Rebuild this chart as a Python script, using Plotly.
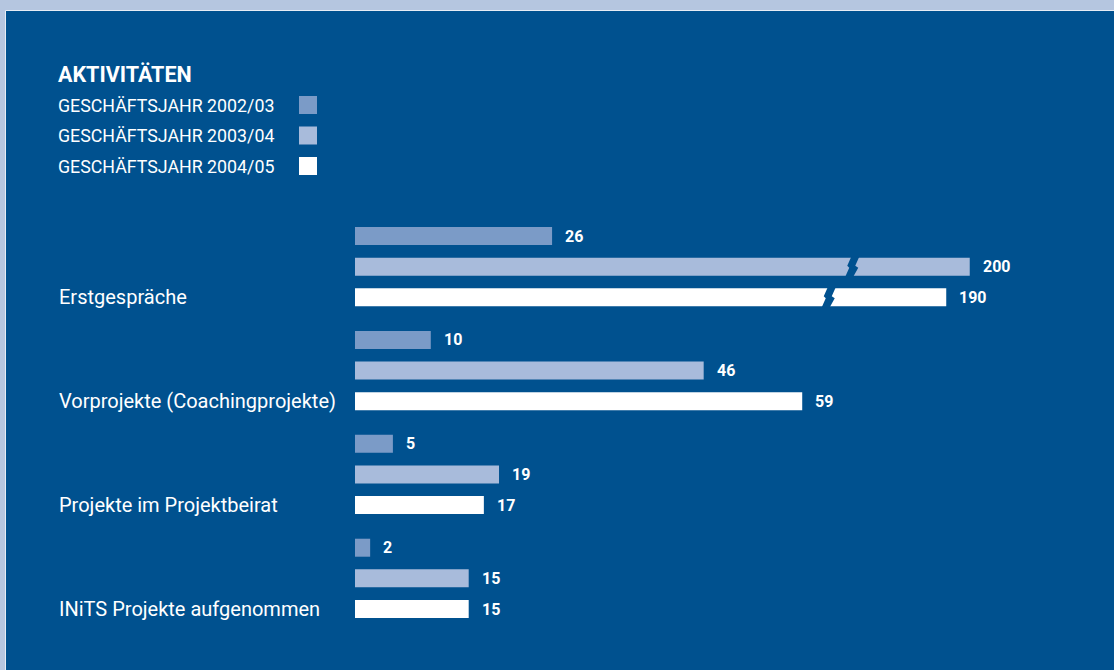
import plotly.graph_objects as go

# ---- data ----
categories = ["Erstgespräche", "Vorprojekte (Coachingprojekte)",
              "Projekte im Projektbeirat", "INiTS Projekte aufgenommen"]
series_names = ["GESCHÄFTSJAHR 2002/03", "GESCHÄFTSJAHR 2003/04", "GESCHÄFTSJAHR 2004/05"]
values_2002_03 = [26, 10, 5, 2]
values_2003_04 = [200, 46, 19, 15]
values_2004_05 = [190, 59, 17, 15]
title_text = "AKTIVITÄTEN"

# ---- style ----
BG = "#00518f"
BORDER = "#b5c6e0"
COLORS = ["#7b9bc7", "#a8bbdb", "#ffffff"]
FONT = "Roboto, 'Open Sans', sans-serif"

W_FIG, H_FIG = 1114, 670
L, T, PW, PH = 355, 205, 700, 430
PX_PER_X = 7.58
PX_PER_Y = 30.65
GROUP_STEP = 3.39
BAR_W = 18 / PX_PER_Y

# broken axis: very large values are drawn compressed
BREAK_LIMIT = 100
BREAK_OFFSET = 19.1
BREAK_SLOPE = 0.31
BREAK_FROM_END = 15.5


def shown(v):
    return v if v <= BREAK_LIMIT else BREAK_OFFSET + BREAK_SLOPE * v


def px_x(p):
    return (p - L) / PW


def px_y(p):
    return 1 - (p - T) / PH


all_series = [values_2002_03, values_2003_04, values_2004_05]

fig = go.Figure()
shapes = []
annotations = []

# background panels
shapes.append(dict(type="rect", xref="paper", yref="paper", layer="below",
                   x0=px_x(-5), x1=px_x(W_FIG + 5), y0=px_y(-5), y1=px_y(H_FIG + 5),
                   fillcolor=BORDER, line=dict(width=0)))
shapes.append(dict(type="rect", xref="paper", yref="paper", layer="below",
                   x0=px_x(5.5), x1=px_x(W_FIG + 5), y0=px_y(10.5), y1=px_y(H_FIG + 5),
                   fillcolor=BG, line=dict(color="#e6ecf5", width=1)))

for j, (name, vals) in enumerate(zip(series_names, all_series)):
    ys = [i * GROUP_STEP + j for i in range(len(categories))]
    fig.add_trace(go.Bar(
        x=[shown(v) for v in vals], y=ys, orientation="h", name=name,
        width=BAR_W, marker=dict(color=COLORS[j], line=dict(width=0)),
        hoverinfo="skip", showlegend=False))
    for v, y in zip(vals, ys):
        annotations.append(dict(x=shown(v), y=y, xref="x", yref="y", text=f"<b>{v}</b>",
                                showarrow=False, xanchor="left", yanchor="middle", xshift=11,
                                font=dict(family=FONT, size=16, color="white")))
        if v > BREAK_LIMIT:
            cx = shown(v) - BREAK_FROM_END
            pts = [(-1, -10), (7, -10), (3, -1), (6, 1), (1, 10), (-7, 10), (-3, 1), (-5, -1)]
            path = "M " + " L ".join(f"{cx + dx / PX_PER_X:.4f},{y + dy / PX_PER_Y:.4f}"
                                     for dx, dy in pts) + " Z"
            shapes.append(dict(type="path", xref="x", yref="y", path=path,
                               fillcolor=BG, line=dict(width=0), layer="above"))

# category labels
for i, cat in enumerate(categories):
    annotations.append(dict(x=px_x(57), y=i * GROUP_STEP + 2, xref="paper", yref="y",
                            text=cat, showarrow=False, xanchor="left", yanchor="middle",
                            font=dict(family=FONT, size=20, color="white")))

# title and legend
annotations.append(dict(x=px_x(56), y=px_y(74), xref="paper", yref="paper",
                        text=f"<b>{title_text}</b>", showarrow=False, xanchor="left",
                        yanchor="middle", font=dict(family=FONT, size=21.5, color="white")))
legend_y = [105, 135.5, 166]
for name, col, ly in zip(series_names, COLORS, legend_y):
    annotations.append(dict(x=px_x(56), y=px_y(ly), xref="paper", yref="paper",
                            text=name, showarrow=False, xanchor="left", yanchor="middle",
                            font=dict(family=FONT, size=17.8, color="white")))
    shapes.append(dict(type="rect", xref="paper", yref="paper",
                       x0=px_x(299), x1=px_x(317), y0=px_y(ly - 9), y1=px_y(ly + 9),
                       fillcolor=col, line=dict(width=0)))

y_top = -(236 - T) / PX_PER_Y
y_bot = y_top + PH / PX_PER_Y

fig.update_layout(
    width=W_FIG, height=H_FIG,
    margin=dict(l=L, r=W_FIG - L - PW, t=T, b=H_FIG - T - PH, pad=0),
    paper_bgcolor=BG, plot_bgcolor="rgba(0,0,0,0)",
    barmode="overlay",
    xaxis=dict(range=[0, PW / PX_PER_X], visible=False, fixedrange=True),
    yaxis=dict(range=[y_bot, y_top], visible=False, fixedrange=True),
    shapes=shapes, annotations=annotations,
    font=dict(family=FONT, color="white"),
)

fig.write_html("out.html", config={"displayModeBar": False})
